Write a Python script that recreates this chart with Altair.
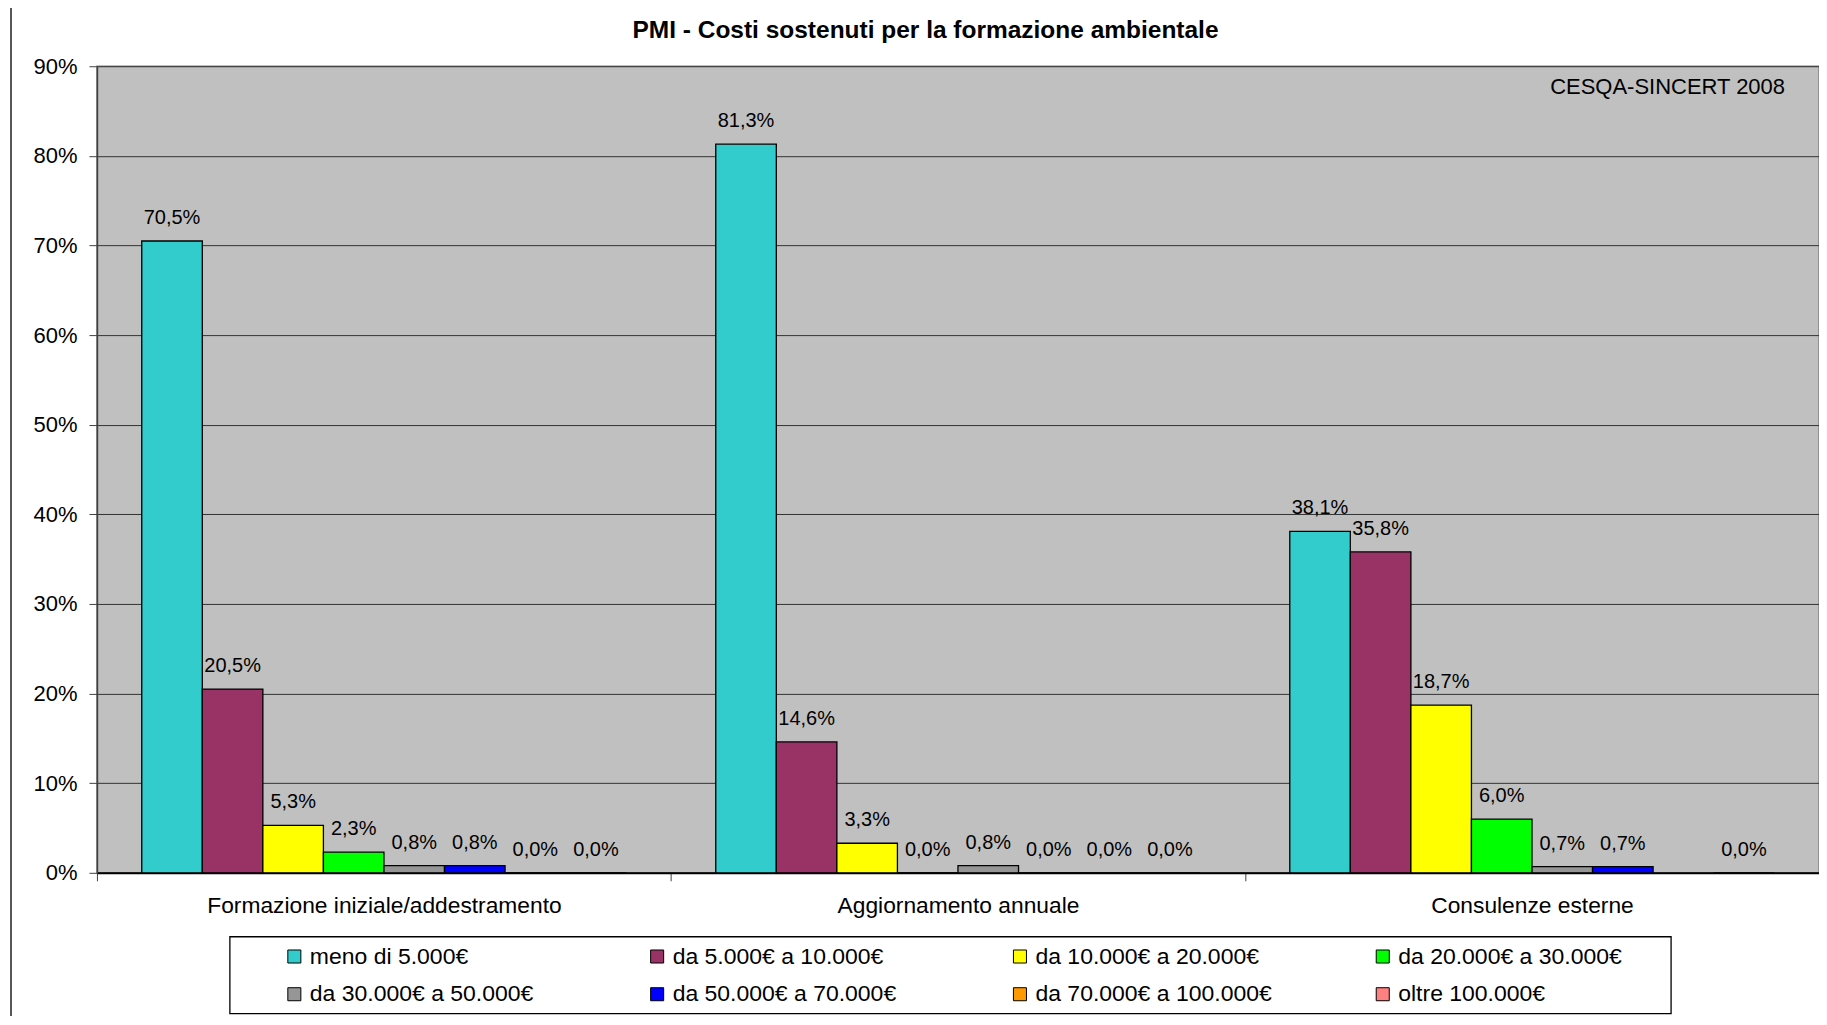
import altair as alt
import pandas as pd

title_text = "PMI - Costi sostenuti per la formazione ambientale"
note_text = "CESQA-SINCERT 2008"
categories = ["Formazione iniziale/addestramento", "Aggiornamento annuale", "Consulenze esterne"]
series = [
    "meno di 5.000€",
    "da 5.000€ a 10.000€",
    "da 10.000€ a 20.000€",
    "da 20.000€ a 30.000€",
    "da 30.000€ a 50.000€",
    "da 50.000€ a 70.000€",
    "da 70.000€ a 100.000€",
    "oltre 100.000€",
]
colors = ["#33CCCC", "#993366", "#FFFF00", "#00FF00", "#969696", "#0000FF", "#FF9900", "#FF8080"]

formazione = [70.5, 20.5, 5.3, 2.3, 0.8, 0.8, 0.0, 0.0]
aggiornamento = [81.3, 14.6, 3.3, 0.0, 0.8, 0.0, 0.0, 0.0]
consulenze = [38.1, 35.8, 18.7, 6.0, 0.7, 0.7, None, 0.0]

y_ticks = [0, 10, 20, 30, 40, 50, 60, 70, 80, 90]

rows = []
for cat, vals in zip(categories, [formazione, aggiornamento, consulenze]):
    for i, (s, v) in enumerate(zip(series, vals)):
        if v is None:
            continue
        rows.append({"categoria": cat, "fascia": s, "ordine": i, "valore": v,
                     "etichetta": f"{v:.1f}%".replace(".", ",")})
df = pd.DataFrame(rows)

FONT = "Liberation Sans"
W, H = 1723, 807

x_enc = alt.X("categoria:N", sort=categories, title=None,
              scale=alt.Scale(paddingInner=0, paddingOuter=0),
              axis=alt.Axis(labelAngle=0, labelFontSize=22.8, labelFont=FONT, labelColor="black",
                            labelLimit=800, tickBand="extent", tickSize=8, tickColor="#404040",
                            domainColor="black", domainWidth=2, labelPadding=14, grid=False))
xoff = alt.XOffset("fascia:N", sort=series, scale=alt.Scale(paddingInner=0, paddingOuter=0.74))
y_enc = alt.Y("valore:Q", title=None,
              scale=alt.Scale(domain=[0, 90], nice=False),
              axis=alt.Axis(values=y_ticks, labelExpr="datum.value + '%'", labelFontSize=22,
                            labelFont=FONT, labelColor="black", tickSize=8, tickColor="#404040",
                            domainColor="#404040", domainWidth=1.5, labelPadding=12,
                            grid=True, gridColor="#333333", gridWidth=1))

# chart-area frame and legend box (decorations)
frame = alt.Chart(pd.DataFrame({"k": [0]})).mark_rect(
    filled=False, stroke="#222222", strokeWidth=1.5
).encode(x=alt.value(-86), y=alt.value(-60), x2=alt.value(W + 200), y2=alt.value(H + 400))

legend_box = alt.Chart(pd.DataFrame({"k": [0]})).mark_rect(
    fill="white", stroke="black", strokeWidth=1.3
).encode(x=alt.value(133), y=alt.value(871), x2=alt.value(1575), y2=alt.value(948))

bars = alt.Chart(df).mark_bar(stroke="black", strokeWidth=1.3).encode(
    x=x_enc,
    xOffset=xoff,
    y=y_enc,
    color=alt.Color("fascia:N", sort=series,
                    scale=alt.Scale(domain=series, range=colors),
                    legend=alt.Legend(title=" ", titleOrient="left", titleFontSize=23,
                                      titlePadding=46, orient="none", legendX=133, legendY=872,
                                      direction="horizontal", columns=4, gridAlign="all",
                                      columnPadding=99, rowPadding=14, padding=7,
                                      symbolType="square", symbolSize=170,
                                      symbolStrokeColor="black", symbolStrokeWidth=1,
                                      labelFontSize=23, labelFont=FONT, labelColor="black",
                                      labelOffset=4, strokeColor="transparent",
                                      labelLimit=500)),
)

labels = alt.Chart(df).mark_text(fontSize=20, font=FONT, color="black", dy=-23, baseline="middle").encode(
    x=alt.X("categoria:N", sort=categories),
    xOffset=xoff,
    y=alt.Y("valore:Q"),
    text="etichetta:N",
)

note = alt.Chart(pd.DataFrame({"t": [note_text]})).mark_text(
    fontSize=22, font=FONT, color="black", align="right", baseline="middle"
).encode(x=alt.value(W - 34), y=alt.value(21), text="t:N")

title = alt.Chart(pd.DataFrame({"t": [title_text]})).mark_text(
    fontSize=24.5, font=FONT, fontWeight="bold", color="black", align="center", baseline="middle"
).encode(x=alt.value(829), y=alt.value(-35), text="t:N")

chart = alt.layer(frame, legend_box, bars, labels, note, title).properties(
    width=W, height=H,
    autosize=alt.AutoSizeParams(type="none"),
    padding={"left": 89, "top": 58, "right": 0, "bottom": 143},
    background="white",
).configure_view(fill="#C0C0C0", stroke="#808080", strokeWidth=1.5)

chart.save("out.html", embed_options={"renderer": "svg", "actions": False})
